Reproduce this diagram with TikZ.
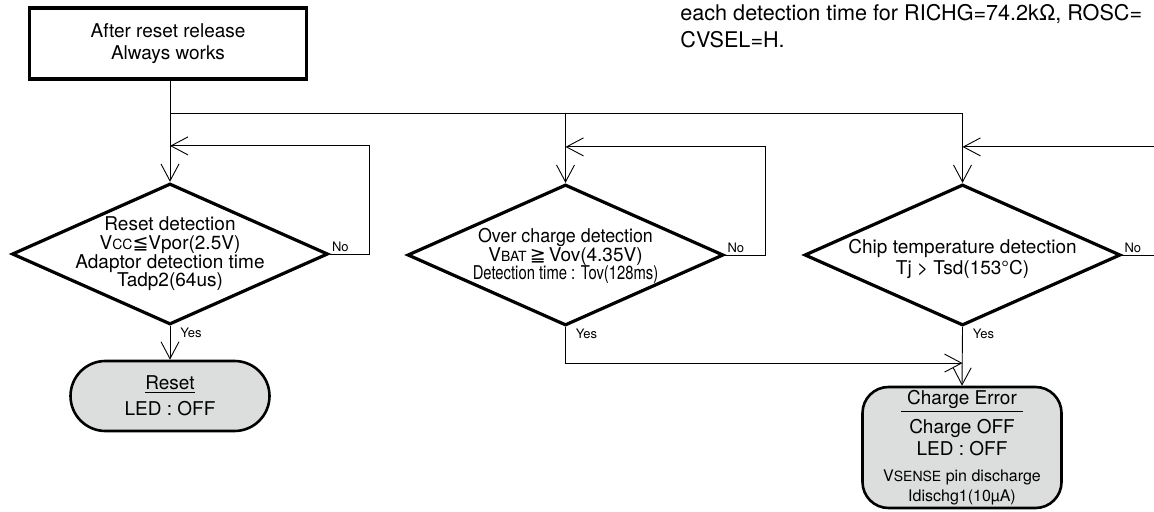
\documentclass[tikz,border=0pt]{standalone}
\usepackage{graphicx}
\usepackage{fontspec}
\setmainfont{TeX Gyre Heros}
\newfontfamily\symfont{DejaVu Sans}
\usetikzlibrary{calc}
\usetikzlibrary{shapes.geometric}
\usetikzlibrary{arrows.meta}
\definecolor{termgray}{RGB}{220,221,221}
\newcommand{\subcap}[1]{{\fontsize{7}{7}\selectfont #1}}
\tikzstyle{startbox} = [draw, line width=1.6pt, minimum width=138.5pt, minimum height=35.5pt, align=center]
\tikzstyle{decision} = [diamond, draw, line width=1.6pt, minimum width=158pt, minimum height=70.5pt, inner sep=0pt]
\tikzstyle{dtext} = [align=center, inner sep=0pt, font=\fontsize{9.5}{9.3}\selectfont]
\tikzstyle{terminal} = [draw, line width=1.3pt, fill=termgray, rounded corners=17.5pt, minimum width=99.5pt, minimum height=35pt, align=center]
\tikzstyle{errbox} = [draw, line width=1.3pt, fill=termgray, rounded corners=13pt, minimum width=99.5pt, minimum height=60.5pt, align=center, inner sep=0pt]
\tikzstyle{flow} = [-{Straight Barb[length=8.5pt,width=9pt]}, line width=0.45pt]
\tikzstyle{tag} = [font=\fontsize{6.5}{7}\selectfont, inner sep=1pt]
\tikzstyle{note} = [anchor=base west, inner sep=0pt, font=\fontsize{10.8}{12}\selectfont]

\begin{document}
\begin{tikzpicture}[x=0.5pt,y=-0.5pt,font=\fontsize{9.5}{10}\selectfont]
	\path[use as bounding box,clip] (0,0) rectangle (1154,512);

	\node[note] (note1) at (680,21) {each detection time for RICHG=74.2kΩ, ROSC=};
	\node[note] (note2) at (680,48) {CVSEL=H.};

	\node[startbox] (start) at (168,43.5) {After reset release\\[1pt]Always works};

	\node[decision] (d1) at (170,254) {};
	\node[decision] (d2) at (565.5,255) {};
	\node[decision] (d3) at (962.5,255) {};

	\node[dtext] (t1) at (d1) {Reset detection\\V\subcap{CC}{\symfont ≦}Vpor(2.5V)\\Adaptor detection time\\Tadp2(64us)};
	\node[dtext] (t2) at (565.5,256) {\scalebox{0.94}[1]{Over charge detection}\\V\subcap{BAT}\,{\symfont ≧}\,Vov(4.35V)\\\scalebox{0.78}[1]{Detection time : Tov(128ms)}};
	\node[dtext] (t3) at (962.5,259) {Chip temperature detection\\[1.6pt]Tj > Tsd(153°C)};

	\node[terminal] (reset) at (170,396) {\underline{Reset}\\[3pt]LED : OFF};
	\node[errbox] (err) at (962,447.5) {\underline{\makebox[61pt]{Charge Error}}\\[2.5pt]Charge OFF\\[1pt]LED : OFF\\[3pt]{\fontsize{8}{8}\selectfont V\subcap{SENSE} pin discharge}\\{\fontsize{8}{8}\selectfont Idischg1(10µA)}};

	% common branch to all checks
	\coordinate (split) at (170,113);
	\draw[flow] (start.south -| d1.north) -- (d1.north);
	\draw[flow] (split) -| (d3.north);
	\draw[flow] (split -| d2.north) -- (d2.north);

	\foreach \d in {d1,d2,d3}{
		\draw[flow] (\d.east) -- ++(40,0) |- ($(\d.north)+(0,-36)$);
		\node[tag, anchor=south west] (\d-no) at (\d.east) {No};
		\node[tag, anchor=north west, xshift=4pt] (\d-yes) at (\d.south) {Yes};
	}

	\draw[flow] (d1.south) -- (reset.north);
	\draw[flow] (d2.south) |- ($(d3.south)+(0,36)$);
	\draw[flow] (d3.south) -- (err.north);

\end{tikzpicture}
\end{document}
